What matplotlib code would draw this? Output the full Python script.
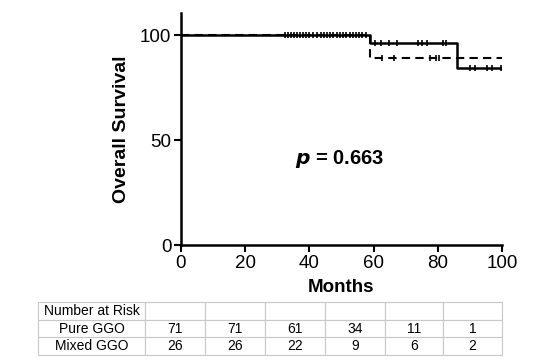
import matplotlib.pyplot as plt
import numpy as np

plt.rcParams['font.family'] = ['Liberation Sans', 'DejaVu Sans']

# survival steps (months, % surviving)
pure_t = [0, 59, 86, 100]
pure_s = [100, 96.0, 84.4, 84.4]
mixed_t = [0, 59, 100]
mixed_s = [100, 88.9, 88.9]

# censored times (both groups at 100 before first event)
cens_top = [32.4, 33.3, 34.3, 35.2, 36.1, 37.0, 38.0, 39.0, 40.0, 41.0,
            42.5, 43.5, 44.5, 45.5, 46.5, 47.5, 48.5, 49.5, 50.5, 51.5,
            52.5, 53.5, 54.5, 55.5, 56.5, 57.5]
pure_cens = [60.4, 62.2, 64.9, 67.4, 73.9, 75.0, 76.5, 81.7, 82.6,
             90.0, 91.6, 95.2, 96.8, 99.6]
mixed_cens = [62.5, 66.5, 77.5, 79.5, 80.5]

risk_times = [0, 20, 40, 60, 80, 100]
risk_pure = ['71', '71', '61', '34', '11', '1']
risk_mixed = ['26', '26', '22', '9', '6', '2']

fig = plt.figure(figsize=(5.54, 3.62), dpi=100)
ax = fig.add_axes([0.3267, 0.3232, 0.5794, 0.6408])

ax.step(mixed_t, mixed_s, where='post', color='black', lw=1.5, ls=(0, (4, 2.5)))
ax.step(pure_t, pure_s, where='post', color='black', lw=1.8)


def level(t_steps, s_steps, times):
    idx = np.searchsorted(t_steps, times, side='right') - 1
    return np.array(s_steps)[idx]


ax.plot(cens_top, [100] * len(cens_top), ls='none', marker='|', ms=5,
        mew=1.2, color='black')
ax.plot(pure_cens, level(pure_t, pure_s, pure_cens), ls='none', marker='|',
        ms=5, mew=1.2, color='black')
ax.plot(mixed_cens, level(mixed_t, mixed_s, mixed_cens), ls='none',
        marker='|', ms=5, mew=1.2, color='black')

ax.set_xlim(0, 100)
ax.set_ylim(0, 110.5)
ax.set_xticks(risk_times)
ax.set_yticks([0, 50, 100])
for s in ['top', 'right']:
    ax.spines[s].set_visible(False)
for s in ['left', 'bottom']:
    ax.spines[s].set_linewidth(1.8)
ax.tick_params(direction='out', length=5, width=1.5, labelsize=13.5, pad=2)
ax.set_xlabel('Months', fontsize=13.5, fontweight='bold', labelpad=5)
ax.set_ylabel('Overall Survival', fontsize=14, fontweight='bold', labelpad=7)
ax.text(49.5, 41, r'$\bfit{p}$ = 0.663', fontsize=14.5, fontweight='bold',
        ha='center', va='center')

# number at risk table
tax = fig.add_axes([0.0686, 0.0193, 0.8375, 0.1464])
tax.axis('off')
cells = [['Number at Risk'] + [''] * 6,
         ['Pure GGO'] + risk_pure,
         ['Mixed GGO'] + risk_mixed]
widths = np.array([107, 60, 60, 60, 60, 58, 59], dtype=float)
tbl = tax.table(cellText=cells, colWidths=list(widths / widths.sum()),
                cellLoc='center', bbox=[0, 0, 1, 1])
tbl.auto_set_font_size(False)
tbl.set_fontsize(10)
for (r, c), cell in tbl.get_celld().items():
    cell.set_edgecolor('#c8c8c8')
    cell.set_linewidth(0.8)

fig.savefig('out.png', dpi=100)
